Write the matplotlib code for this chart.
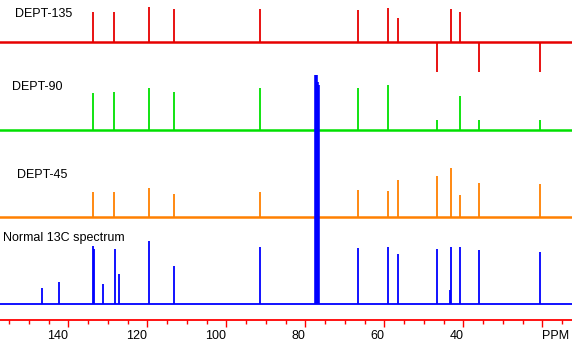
import matplotlib.pyplot as plt

plt.rcParams['font.family'] = ['Liberation Sans', 'DejaVu Sans']

# chemical shifts (ppm) of the carbons seen in the DEPT traces
dept_ppm = [133.7, 128.5, 119.7, 113.2, 91.6, 66.7, 59.1, 56.6, 46.7, 43.2, 40.9, 36.1, 20.7]
dept135 = [30, 30, 35, 33, 33, 32, 34, 24, -30, 33, 30, -30, -30]
dept90 = [37, 38, 42, 38, 42, 42, 45, 0, 10, 0, 34, 10, 10]
dept45 = [25, 25, 29, 23, 25, 27, 26, 37, 41, 49, 22, 34, 33]

# normal 13C spectrum
c13_ppm = [146.6, 142.3, 133.7, 133.5, 131.1, 128.3, 127.3, 119.7, 113.2, 91.5,
           77.4, 77.0, 76.7, 66.6, 59.0, 56.5, 46.6, 43.4, 43.1, 40.8, 36.0, 20.6]
c13_int = [16, 22, 58, 55, 20, 55, 30, 63, 38, 57,
           229, 222, 219, 56, 57, 50, 55, 14, 57, 57, 54, 52]
# the solvent triplet is drawn as a solid block
c13_lw = [1.3] * 10 + [2.6, 2.6, 2.6] + [1.3] * 9

tick_pos = [140, 120, 100, 80, 60, 40, 20]
tick_lab = ['140', '120', '100', '80', '60', '40', 'PPM']

# baselines of each trace, in pixels above the axis line
base135, base90, base45, base13 = 278, 190, 103, 16

fig = plt.figure(figsize=(5.72, 3.43), dpi=100)
ax = fig.add_axes([0, 23 / 343, 1, 320 / 343])

ax.axhline(base135, color='#e60000', lw=1.8)
ax.vlines(dept_ppm, base135, [base135 + h for h in dept135], color='#e60000', lw=1.3)

ax.axhline(base90, color='#00e000', lw=1.8)
ax.vlines(dept_ppm, base90, [base90 + h for h in dept90], color='#00e000', lw=1.3)

ax.axhline(base45, color='#ff8000', lw=1.8)
ax.vlines(dept_ppm, base45, [base45 + h for h in dept45], color='#ff8000', lw=1.3)

ax.axhline(base13, color='#0000ff', lw=1.3)
ax.vlines(c13_ppm, base13, [base13 + h for h in c13_int], color='#0000ff', linewidths=c13_lw)

ax.set_xlim(157.3, 12.5)
ax.set_ylim(0, 320)
ax.set_yticks([])
for s in ['left', 'right', 'top']:
    ax.spines[s].set_visible(False)
ax.spines['bottom'].set_color('#ff0000')
ax.spines['bottom'].set_linewidth(1.3)
ax.patch.set_alpha(0)

ax.set_xticks(tick_pos)
ax.set_xticklabels(tick_lab, fontsize=9)
ax.set_xticks(range(15, 160, 5), minor=True)
ax.tick_params(axis='x', which='major', length=5, width=1, color='#ff0000', pad=2)
ax.tick_params(axis='x', which='minor', length=3, width=1, color='#ff0000')
labs = ax.get_xticklabels()
for l in labs[:-1]:
    l.set_ha('right')
labs[-1].set_ha('left')

fig.text(15 / 572, 1 - 14 / 343, 'DEPT-135', fontsize=9, va='center')
fig.text(12 / 572, 1 - 87 / 343, 'DEPT-90', fontsize=9, va='center')
fig.text(17 / 572, 1 - 175 / 343, 'DEPT-45', fontsize=9, va='center')
fig.text(3 / 572, 1 - 238 / 343, 'Normal 13C spectrum', fontsize=9, va='center')

plt.savefig('out.png', dpi=100)
